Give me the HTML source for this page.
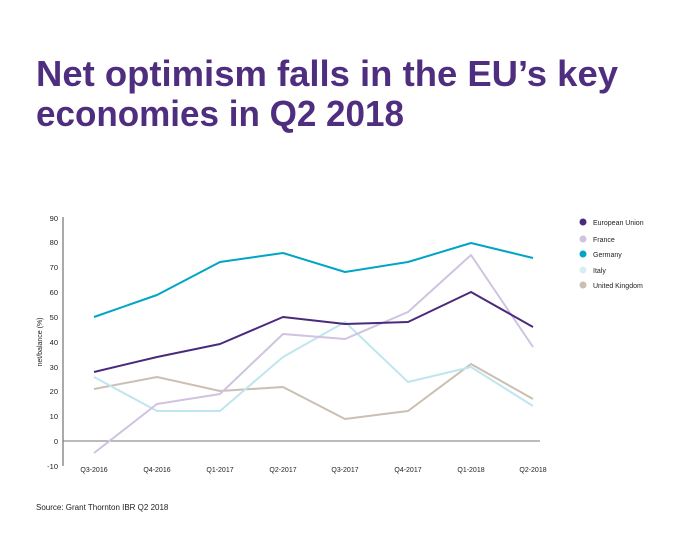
<!DOCTYPE html>
<html><head><meta charset="utf-8"><style>
body{margin:0;background:#fff;}
svg{display:block;font-family:"Liberation Sans",sans-serif;}
</style></head><body>
<svg width="690" height="547" viewBox="0 0 690 547">
<text x="36" y="86" font-size="36" font-weight="bold" fill="#4f2d7f" textLength="582" lengthAdjust="spacingAndGlyphs">Net optimism falls in the EU’s key</text>
<text x="36" y="126" font-size="36" font-weight="bold" fill="#4f2d7f" textLength="368" lengthAdjust="spacingAndGlyphs">economies in Q2 2018</text>
<g font-size="7.5" fill="#222" text-anchor="end">
<text x="58" y="221">90</text><text x="58" y="245">80</text><text x="58" y="270">70</text><text x="58" y="295">60</text><text x="58" y="320">50</text><text x="58" y="345">40</text><text x="58" y="370">30</text><text x="58" y="394">20</text><text x="58" y="419">10</text><text x="58" y="444">0</text><text x="58" y="469">-10</text>
</g>
<text transform="translate(42,342) rotate(-90)" font-size="7" fill="#222" text-anchor="middle">net/balance (%)</text>
<line x1="63" y1="217" x2="63" y2="466" stroke="#555" stroke-width="1"/>
<line x1="63" y1="441" x2="540" y2="441" stroke="#777" stroke-width="1"/>
<g font-size="7" fill="#222" text-anchor="middle">
<text x="94" y="472">Q3-2016</text><text x="157" y="472">Q4-2016</text><text x="220" y="472">Q1-2017</text><text x="283" y="472">Q2-2017</text><text x="345" y="472">Q3-2017</text><text x="408" y="472">Q4-2017</text><text x="471" y="472">Q1-2018</text><text x="533" y="472">Q2-2018</text>
</g>
<g fill="none" stroke-width="2" stroke-linejoin="round">
<polyline stroke="#cbbfb1" points="94,389 157,377 220,391 283,387 345,419 408,411 471,364 533,399"/>
<polyline stroke="#bfe6ee" points="94,377 157,411 220,411 283,357 345,322 408,382 471,367 533,406"/>
<polyline stroke="#cfc3e0" points="94,453 157,404 220,394 283,334 345,339 408,312 471,255 533,347"/>
<polyline stroke="#4b2a7b" points="94,372 157,357 220,344 283,317 345,324 408,322 471,292 533,327"/>
<polyline stroke="#00a5c5" points="94,317 157,295 220,262 283,253 345,272 408,262 471,243 533,258"/>
</g>
<g font-size="7" fill="#222">
<circle cx="583" cy="222" r="3.5" fill="#4b2a7b"/><text x="593" y="225">European Union</text>
<circle cx="583" cy="239" r="3.5" fill="#cfc3e0"/><text x="593" y="242">France</text>
<circle cx="583" cy="254" r="3.5" fill="#00a5c5"/><text x="593" y="257">Germany</text>
<circle cx="583" cy="270" r="3.5" fill="#d8eef3"/><text x="593" y="273">Italy</text>
<circle cx="583" cy="285" r="3.5" fill="#cbbfb1"/><text x="593" y="288">United Kingdom</text>
</g>
<text x="36" y="510" font-size="8" fill="#222">Source: Grant Thornton IBR Q2 2018</text>
</svg>
</body></html>
